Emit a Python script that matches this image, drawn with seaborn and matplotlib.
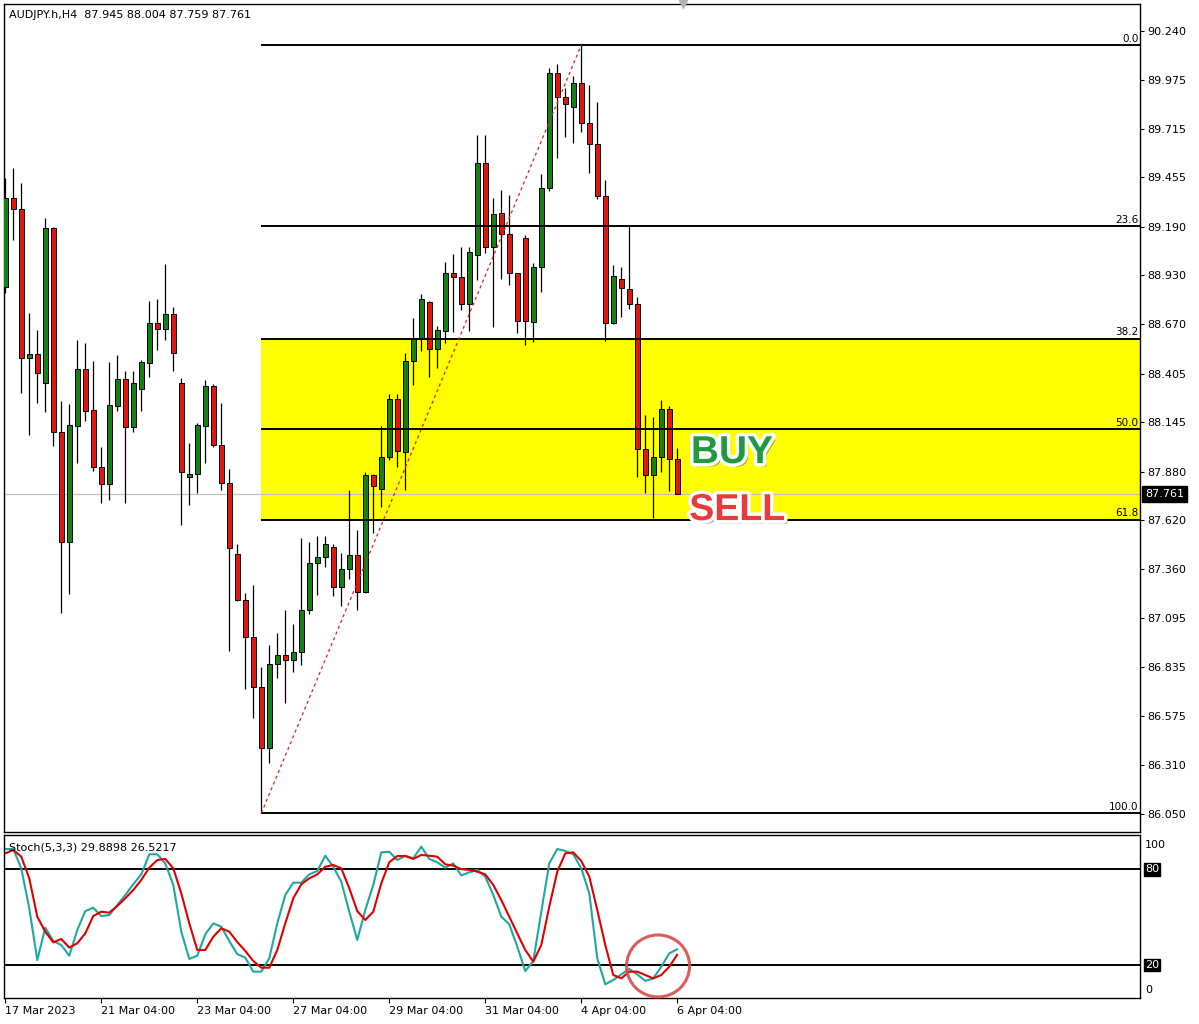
import numpy as np
import pandas as pd
import matplotlib
matplotlib.use("Agg")
import matplotlib.pyplot as plt
import matplotlib.patheffects as pe
import matplotlib.transforms as mtransforms
from matplotlib.patches import Rectangle, Ellipse
import seaborn as sns

# ---------------- data ----------------
opens = [88.866, 89.342, 89.283, 88.486, 88.509, 88.352, 89.182, 88.093, 87.505, 88.124,
         88.427, 88.209, 87.903, 87.812, 88.231, 88.374, 88.120, 88.324, 88.463, 88.673,
         88.641, 88.722, 88.354, 87.853, 87.865, 88.126, 88.338, 88.022, 87.817, 87.437,
         87.193, 86.993, 86.726, 86.399, 86.851, 86.899, 86.872, 86.916, 87.139, 87.392,
         87.421, 87.475, 87.264, 87.357, 87.434, 87.237, 87.862, 87.785, 87.956, 88.267,
         87.986, 88.472, 88.588, 88.789, 88.534, 88.634, 88.941, 88.920, 88.775, 89.039,
         89.530, 89.083, 89.262, 89.150, 88.941, 89.128, 88.682, 88.973, 89.396, 90.011,
         89.883, 89.832, 89.958, 89.744, 89.631, 89.356, 88.677, 88.909, 88.855, 88.775,
         87.999, 87.862, 87.956, 88.213, 87.945]
highs = [89.451, 89.503, 89.426, 88.730, 88.638, 89.235, 89.190, 88.259, 88.242, 88.584,
         88.570, 88.473, 88.013, 88.468, 88.504, 88.420, 88.420, 88.477, 88.793, 88.803,
         88.989, 88.762, 88.381, 88.031, 88.142, 88.370, 88.349, 88.245, 87.892, 87.493,
         87.232, 87.273, 86.836, 86.952, 87.018, 87.139, 87.064, 87.523, 87.505, 87.535,
         87.535, 87.491, 87.446, 87.781, 87.567, 87.879, 87.865, 88.124, 88.295, 88.295,
         88.513, 88.700, 88.830, 88.795, 88.659, 89.003, 89.044, 89.080, 89.080, 89.681,
         89.681, 89.342, 89.387, 89.360, 88.945, 89.146, 88.998, 89.472, 90.041, 90.059,
         89.931, 89.997, 90.162, 89.948, 89.859, 89.440, 88.985, 88.973, 89.194, 88.816,
         88.183, 88.174, 88.263, 88.231, 88.004]
lows = [88.836, 89.119, 88.302, 88.076, 88.245, 88.200, 88.017, 87.122, 87.223, 87.928,
        88.152, 87.885, 87.710, 87.728, 88.206, 87.710, 88.093, 88.206, 88.388, 88.531,
        88.584, 88.420, 87.594, 87.701, 87.764, 87.928, 88.013, 87.781, 86.920, 87.190,
        86.715, 86.560, 86.052, 86.319, 86.774, 86.640, 86.809, 86.845, 87.118, 87.220,
        87.368, 87.214, 87.161, 87.304, 87.139, 87.229, 87.551, 87.689, 87.942, 87.906,
        87.781, 88.343, 88.527, 88.388, 88.433, 88.570, 88.628, 88.745, 88.634, 88.905,
        89.051, 88.655, 88.909, 88.878, 88.623, 88.557, 88.575, 88.843, 89.383, 89.556,
        89.672, 89.640, 89.699, 89.479, 89.337, 88.580, 88.670, 88.709, 88.748, 87.853,
        87.767, 87.630, 87.879, 87.778, 87.759]
closes = [89.342, 89.283, 88.486, 88.509, 88.406, 89.182, 88.093, 87.505, 88.129, 88.427,
          88.206, 87.903, 87.812, 88.236, 88.374, 88.120, 88.352, 88.466, 88.673, 88.641,
          88.722, 88.513, 87.879, 87.865, 88.129, 88.338, 88.022, 87.817, 87.473, 87.193,
          86.993, 86.726, 86.399, 86.851, 86.899, 86.872, 86.913, 87.139, 87.392, 87.425,
          87.493, 87.264, 87.357, 87.434, 87.237, 87.862, 87.804, 87.956, 88.267, 87.992,
          88.472, 88.593, 88.802, 88.534, 88.638, 88.941, 88.920, 88.775, 89.053, 89.530,
          89.083, 89.257, 89.150, 88.941, 88.687, 88.687, 88.973, 89.396, 90.011, 89.883,
          89.845, 89.958, 89.744, 89.631, 89.356, 88.673, 88.926, 88.861, 88.775, 87.999,
          87.862, 87.956, 88.213, 87.947, 87.761]

stoch_k = [92.7, 92.7, 80.6, 55.5, 23.1, 43.4, 35.0, 32.5, 25.8, 41.9,
           53.8, 55.9, 50.7, 51.3, 57.6, 63.9, 70.6, 76.8, 89.4, 89.4,
           83.7, 70.2, 40.9, 23.8, 25.8, 39.2, 46.1, 44.0, 35.0, 26.8,
           24.6, 15.8, 15.8, 24.2, 46.1, 63.9, 71.6, 71.6, 76.8, 78.9,
           88.5, 81.6, 72.2, 53.4, 35.7, 54.5, 70.2, 90.6, 91.0, 85.8,
           88.5, 86.9, 94.2, 86.5, 84.4, 81.0, 83.7, 76.2, 78.1, 79.6,
           75.4, 63.9, 50.3, 45.5, 31.5, 16.2, 22.5, 53.4, 83.7, 92.7,
           91.5, 89.4, 80.6, 64.9, 24.2, 7.9, 10.6, 14.1, 17.5, 14.1,
           10.0, 11.6, 18.9, 27.3, 29.9]
stoch_d = [90.0, 92.1, 87.9, 74.3, 50.3, 40.9, 34.2, 36.3, 30.9, 33.6,
           39.8, 50.7, 53.4, 52.8, 57.0, 61.8, 67.0, 73.3, 81.0, 85.8,
           86.5, 80.6, 64.9, 46.1, 29.4, 29.4, 37.7, 43.0, 40.9, 34.4,
           28.8, 22.5, 18.3, 18.3, 29.4, 46.1, 61.8, 70.6, 74.3, 76.8,
           81.6, 82.7, 80.6, 68.1, 53.8, 48.2, 53.4, 71.2, 84.4, 88.3,
           88.3, 86.5, 89.0, 88.5, 87.9, 83.1, 82.3, 80.1, 79.6, 78.5,
           76.8, 70.2, 60.7, 50.3, 39.8, 29.4, 22.1, 32.5, 56.6, 78.5,
           90.0, 90.6, 85.2, 75.4, 54.5, 32.5, 13.7, 11.6, 15.8, 15.8,
           13.7, 11.6, 13.7, 18.9, 26.5]

price_ticks = [90.240, 89.975, 89.715, 89.455, 89.190, 88.930, 88.670, 88.405, 88.145,
               87.880, 87.620, 87.360, 87.095, 86.835, 86.575, 86.310, 86.050]
date_labels = ["17 Mar 2023", "21 Mar 04:00", "23 Mar 04:00", "27 Mar 04:00",
               "29 Mar 04:00", "31 Mar 04:00", "4 Apr 04:00", "6 Apr 04:00"]
date_label_idx = [0, 12, 24, 36, 48, 60, 72, 84]
fib_ratios = [0.0, 23.6, 38.2, 50.0, 61.8, 100.0]
fib_zone = (38.2, 61.8)
swing_low_idx = 32
swing_high_idx = 72
last_price = 87.761
stoch_levels = [80, 20]
header_text = "AUDJPY.h,H4  87.945 88.004 87.759 87.761"
stoch_text = "Stoch(5,3,3) 29.8898 26.5217"

# ---------------- style ----------------
sns.set_style("white")
plt.rcParams['font.family'] = ['DejaVu Sans']

W, H = 1199, 1024
fig = plt.figure(figsize=(W / 100, H / 100), dpi=100)
fig.patch.set_facecolor('white')

def fx(px):
    return px / W

def fy(py):
    return 1 - py / H

ax = fig.add_axes([fx(4), fy(832), fx(1140) - fx(4), fy(4) - fy(832)])
ax2 = fig.add_axes([fx(4), fy(998), fx(1140) - fx(4), fy(835) - fy(998)], sharex=ax)

n = len(closes)
idx = np.arange(n)
xmin = -0.16
xmax = xmin + (1140 - 4) / 8.0
ax.set_xlim(xmin, xmax)
ax.set_ylim(85.952, 90.382)

o = np.array(opens); c = np.array(closes); hi = np.array(highs); lo = np.array(lows)
up = c >= o
green = '#168016'
red = '#e3150f'

# wicks
ax.vlines(idx, lo, hi, color='black', linewidth=0.9, zorder=3)
# bodies
body_bottom = np.minimum(o, c)
body_h = np.maximum(np.abs(c - o), 0.004)
ax.bar(idx, body_h, bottom=body_bottom, width=0.56,
       color=np.where(up, green, red), edgecolor='black', linewidth=0.7, zorder=4)

# Fibonacci retracement
fib_high = hi[swing_high_idx]
fib_low = lo[swing_low_idx]
levels = {r: fib_high - r / 100.0 * (fib_high - fib_low) for r in fib_ratios}
ax.add_patch(Rectangle((swing_low_idx, levels[fib_zone[1]]), xmax - swing_low_idx,
                       levels[fib_zone[0]] - levels[fib_zone[1]],
                       facecolor='#ffff00', edgecolor='none', zorder=1))
ax.axhline(last_price, color='#c0c0c0', linewidth=0.9, zorder=2)
for r, lv in levels.items():
    ax.hlines(lv, swing_low_idx, xmax, color='black', linewidth=1.4, zorder=5)
    ax.text(0.9985, lv, "%.1f" % r, transform=mtransforms.offset_copy(
        ax.get_yaxis_transform(), fig=fig, x=0, y=1.5, units='dots'),
        ha='right', va='bottom', fontsize=7.5, color='black', zorder=6)
ax.plot([swing_low_idx, swing_high_idx], [fib_low, fib_high], color='#e02020',
        linewidth=0.9, linestyle=(0, (2.5, 2.5)), zorder=5)

# axes styling
for a in (ax, ax2):
    for s in a.spines.values():
        s.set_color('black')
        s.set_linewidth(1.0)
ax.yaxis.tick_right()
ax.set_yticks(price_ticks)
ax.set_yticklabels(["%.3f" % v for v in price_ticks])
ax.tick_params(axis='y', direction='out', length=3, width=0.8, pad=2, labelsize=8,
               colors='black', right=True, left=False)
ax.tick_params(axis='x', bottom=False, labelbottom=False)
ax.set_xlabel(''); ax.set_ylabel('')

# last price label
ax.text(1.0, last_price, "%.3f" % last_price,
        transform=mtransforms.offset_copy(ax.get_yaxis_transform(), fig=fig, x=5, y=0, units='dots'),
        ha='left', va='center', fontsize=8, color='white', zorder=10, clip_on=False,
        bbox=dict(boxstyle='square,pad=0.25', facecolor='black', edgecolor='black'))

# header
ax.text(5 / 1136, 1 - 11 / 828, header_text, transform=ax.transAxes, ha='left', va='center',
        fontsize=8, color='black')

# shift marker
ax.plot([n - 1 + 0.75], [ax.get_ylim()[1]], marker='v', color='#b0b0b0', markersize=6,
        clip_on=False, zorder=10)

# BUY / SELL labels
effects = [pe.SimplePatchShadow(offset=(2.5, -2.5), shadow_rgbFace=(0.45, 0.45, 0.45), alpha=0.6),
           pe.Stroke(linewidth=5, foreground='white'), pe.Normal()]
ax.text(85.7, 87.926, "BUY", fontsize=28, fontweight='bold', family=['Liberation Sans'],
        color='#1f9a3e', ha='left', va='baseline', zorder=12, path_effects=effects)
ax.text(85.5, 87.621, "SELL", fontsize=27, fontweight='bold', family=['Liberation Sans'],
        color='#ea3a3e', ha='left', va='baseline', zorder=12, path_effects=effects)

# ---------------- stochastic ----------------
sdf = pd.DataFrame({'i': np.concatenate([idx, idx]),
                    'v': stoch_k + stoch_d,
                    'line': ['K'] * n + ['D'] * n})
sns.lineplot(data=sdf, x='i', y='v', hue='line', palette={'K': '#1fa8a0', 'D': '#e00000'},
             linewidth=1.5, legend=False, ax=ax2, sort=False, estimator=None)
ax2.set_ylim(-0.7, 101.5)
ax2.set_xlabel(''); ax2.set_ylabel('')
for lv in stoch_levels:
    ax2.axhline(lv, color='black', linewidth=1.4, zorder=1)
ax2.set_yticks([])
ytr = mtransforms.offset_copy(ax2.get_yaxis_transform(), fig=fig, x=5, y=0, units='dots')
for lv in stoch_levels:
    ax2.text(1.0, lv, str(lv), transform=ytr, ha='left', va='center', fontsize=8,
             color='white', clip_on=False,
             bbox=dict(boxstyle='square,pad=0.12', facecolor='black', edgecolor='black'))
ax2.text(1.0, 95.2, "100", transform=ytr, ha='left', va='center', fontsize=8, color='black')
ax2.text(1.0, 4.3, "0", transform=ytr, ha='left', va='center', fontsize=8, color='black')
ax2.text(5 / 1136, 0.923, stoch_text, transform=ax2.transAxes, ha='left', va='center',
         fontsize=8, color='black')

ax2.set_xticks(date_label_idx)
ax2.set_xticklabels(date_labels)
ax2.tick_params(axis='x', direction='out', length=3.5, width=0.8, pad=2, labelsize=8,
                colors='black', bottom=True)
for lbl in ax2.get_xticklabels():
    lbl.set_horizontalalignment('left')
ax.tick_params(axis='x', bottom=False, labelbottom=False)

# highlight circle
ax2.add_patch(Ellipse((81.6, 19.4), width=63 / 8.0, height=62 / 1.595, fill=False,
                      edgecolor='#dc4a4a', linewidth=2.2, alpha=0.9, zorder=8, clip_on=False))

fig.savefig("out.png", dpi=100, facecolor='white')
